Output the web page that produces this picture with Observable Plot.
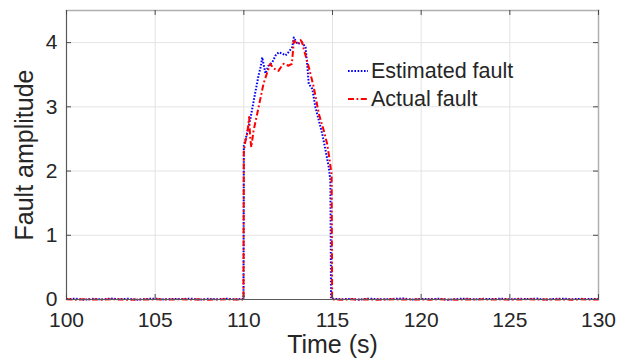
<!DOCTYPE html>
<html>
<head>
<meta charset="utf-8">
<script src="https://cdn.jsdelivr.net/npm/d3@7"></script>
<script src="https://cdn.jsdelivr.net/npm/@observablehq/plot@0.6"></script>
<style>
  html, body { margin: 0; padding: 0; background: #fff; }
  #wrap { position: relative; width: 628px; height: 359px; font-family: "Liberation Sans", Arial, sans-serif; }
  #legend { position: absolute; left: 0; top: 0; pointer-events: none; }
</style>
</head>
<body>
<div id="wrap"></div>
<script>
// ---- data ----
const xTicks = [100, 105, 110, 115, 120, 125, 130];
const yTicks = [0, 1, 2, 3, 4];
const seriesNames = ["Estimated fault", "Actual fault"];

// Estimated fault (blue, dotted)
const estT = [100, 100.5, 101, 101.5, 102, 102.5, 103, 103.5, 104, 104.5, 105, 105.5, 106, 106.5, 107, 107.5, 108, 108.5, 109, 109.5, 109.9,
  109.98, 110.0, 110.05, 110.15, 110.25, 110.38, 110.56, 110.7, 110.83, 110.95, 111.04, 111.11, 111.22, 111.39, 111.6, 111.79, 111.97,
  112.16, 112.35, 112.52, 112.73, 112.82, 113.01, 113.29, 113.48, 113.57, 113.66, 113.86, 114.04, 114.23, 114.42, 114.61, 114.79, 114.88, 114.92,
  115, 115.5, 116, 116.5, 117, 117.5, 118, 118.5, 119, 119.5, 120, 120.5, 121, 121.5, 122, 122.5, 123, 123.5, 124, 124.5, 125, 125.5,
  126, 126.5, 127, 127.5, 128, 128.5, 129, 129.5, 130];
const estV = [0.006, 0.012, -0.004, 0.010, 0.002, 0.015, 0.005, 0.011, -0.003, 0.008, 0.013, 0.001, 0.009, 0.006, 0.014, -0.002, 0.010, 0.004, 0.013, 0.003, 0.008,
  0.01, 2.40, 2.45, 2.55, 2.68, 2.83, 3.10, 3.30, 3.49, 3.62, 3.77, 3.67, 3.52, 3.64, 3.69, 3.80, 3.85,
  3.83, 3.80, 3.85, 3.93, 4.08, 3.98, 4.00, 3.93, 3.67, 3.36, 3.28, 2.99, 2.79, 2.58, 2.32, 2.06, 1.85, 0.01,
  0.012, 0.004, 0.010, -0.003, 0.013, 0.006, 0.002, 0.011, 0.015, 0.000, 0.009, 0.005, 0.012, -0.004, 0.008, 0.014, 0.003, 0.010, 0.006, 0.013,
  0.001, 0.011, 0.007, 0.014, -0.002, 0.009, 0.012, 0.004, 0.010, 0.006, 0.008];

// Actual fault (red, dash-dot)
const actT = [100, 100.5, 101, 101.5, 102, 102.5, 103, 103.5, 104, 104.5, 105, 105.5, 106, 106.5, 107, 107.5, 108, 108.5, 109, 109.5, 109.9,
  109.98, 110.0, 110.08, 110.2, 110.3, 110.35, 110.42, 110.55, 110.83, 111.11, 111.3, 111.49, 111.67, 111.95, 112.1, 112.24, 112.52, 112.71,
  112.82, 113.01, 113.2, 113.29, 113.38, 113.66, 113.94, 114.23, 114.51, 114.7, 114.85, 114.95, 114.98,
  115, 115.5, 116, 116.5, 117, 117.5, 118, 118.5, 119, 119.5, 120, 120.5, 121, 121.5, 122, 122.5, 123, 123.5, 124, 124.5, 125, 125.5,
  126, 126.5, 127, 127.5, 128, 128.5, 129, 129.5, 130];
const actV = [0.002, -0.003, 0.004, 0.000, -0.002, 0.003, 0.001, -0.004, 0.002, 0.000, 0.003, -0.002, 0.001, 0.004, -0.001, 0.002, -0.003, 0.001, 0.003, 0.000, 0.002,
  0.0, 2.30, 2.45, 2.60, 2.84, 2.55, 2.37, 2.63, 2.99, 3.36, 3.52, 3.67, 3.60, 3.56, 3.62, 3.67, 3.64, 3.67,
  4.03, 3.98, 4.04, 4.00, 3.90, 3.62, 3.31, 2.89, 2.63, 2.42, 2.15, 1.95, 0.0,
  0.001, -0.002, 0.003, 0.000, 0.002, -0.003, 0.001, 0.004, -0.001, 0.002, 0.000, -0.002, 0.003, 0.001, -0.003, 0.002, 0.000, 0.003, -0.001, 0.002,
  -0.002, 0.001, 0.003, 0.000, -0.001, 0.002, 0.001, -0.002, 0.003, 0.000, 0.001];

const estData = estT.map((t, i) => ({t, v: estV[i]}));
const actData = actT.map((t, i) => ({t, v: actV[i]}));

const BLUE = "#0000ff", RED = "#ff0000";
const BLUE_DASH = "1.6,1.6", RED_DASH = "6,2.5,1.8,2.5";
const FONT = "'Liberation Sans', Arial, sans-serif";
const TXT = "#262626";
const TICK_FS = 21, LABEL_FS = 25, LEGEND_FS = 21.5;

const W = 628, H = 359;
const mL = 66, mR = 30, mT = 10, mB = 60;
const plotH = H - mT - mB;
const plotW = W - mL - mR;

const chart = Plot.plot({
  width: W,
  height: H,
  marginLeft: mL,
  marginRight: mR,
  marginTop: mT,
  marginBottom: mB,
  style: {fontFamily: FONT, color: TXT, background: "#fff", overflow: "visible"},
  x: {domain: [100, 130], axis: null},
  y: {domain: [0, 4.5], axis: null},
  marks: [
    Plot.gridX(xTicks.slice(1, -1), {stroke: "#e3e3e3", strokeOpacity: 1, strokeWidth: 1}),
    Plot.gridY(yTicks.slice(1), {stroke: "#e3e3e3", strokeOpacity: 1, strokeWidth: 1}),
    // box: top & right (lighter)
    Plot.frame({anchor: "top", stroke: "#b0b0b0", strokeWidth: 1.5}),
    Plot.frame({anchor: "right", stroke: "#b0b0b0", strokeWidth: 1.5}),
    // data
    Plot.line(estData, {x: "t", y: "v", stroke: BLUE, strokeWidth: 2, strokeDasharray: BLUE_DASH, strokeLinecap: "butt"}),
    Plot.line(actData, {x: "t", y: "v", stroke: RED, strokeWidth: 2, strokeDasharray: RED_DASH, strokeLinecap: "butt"}),
    // axis lines (darker)
    Plot.frame({anchor: "bottom", stroke: "#5a5a5a", strokeWidth: 1.2}),
    Plot.frame({anchor: "left", stroke: "#5a5a5a", strokeWidth: 1.2}),
    // inward tick marks
    Plot.tickX(xTicks, {x: d => d, stroke: "#4a4a4a", strokeWidth: 1, insetTop: plotH - 5}),
    Plot.tickX(xTicks, {x: d => d, stroke: "#4a4a4a", strokeWidth: 1, insetBottom: plotH - 5}),
    Plot.tickY(yTicks, {y: d => d, stroke: "#4a4a4a", strokeWidth: 1, insetRight: plotW - 5}),
    Plot.tickY(yTicks, {y: d => d, stroke: "#4a4a4a", strokeWidth: 1, insetLeft: plotW - 5}),
    // tick labels
    Plot.text(xTicks, {x: d => d, text: d => String(d), frameAnchor: "bottom", dy: 21, fontSize: TICK_FS, fill: TXT, textAnchor: "middle", lineAnchor: "middle"}),
    Plot.text(yTicks, {y: d => d, text: d => String(d), frameAnchor: "left", dx: -9, fontSize: TICK_FS, fill: TXT, textAnchor: "end", lineAnchor: "middle"}),
    // axis titles
    Plot.text(["Time (s)"], {frameAnchor: "bottom", dy: 45, fontSize: LABEL_FS, fill: TXT, textAnchor: "middle", lineAnchor: "middle"}),
    Plot.text(["Fault amplitude"], {frameAnchor: "left", dx: -42, rotate: -90, fontSize: LABEL_FS, fill: TXT, textAnchor: "middle", lineAnchor: "middle"})
  ]
});

const wrap = document.getElementById("wrap");
wrap.appendChild(chart);

// legend overlay (no box)
const NS = "http://www.w3.org/2000/svg";
const leg = document.createElementNS(NS, "svg");
leg.setAttribute("id", "legend");
leg.setAttribute("width", W);
leg.setAttribute("height", H);
const items = [
  {name: seriesNames[0], color: BLUE, dash: BLUE_DASH, y: 71},
  {name: seriesNames[1], color: RED, dash: RED_DASH, y: 99}
];
items.forEach(it => {
  const ln = document.createElementNS(NS, "line");
  ln.setAttribute("x1", 348); ln.setAttribute("x2", 368);
  ln.setAttribute("y1", it.y); ln.setAttribute("y2", it.y);
  ln.setAttribute("stroke", it.color);
  ln.setAttribute("stroke-width", 2);
  ln.setAttribute("stroke-dasharray", it.dash);
  leg.appendChild(ln);
  const tx = document.createElementNS(NS, "text");
  tx.setAttribute("x", 371);
  tx.setAttribute("y", it.y + 1);
  tx.setAttribute("dominant-baseline", "middle");
  tx.setAttribute("font-family", FONT);
  tx.setAttribute("font-size", LEGEND_FS);
  tx.setAttribute("fill", TXT);
  tx.textContent = it.name;
  leg.appendChild(tx);
});
wrap.appendChild(leg);
</script>
</body>
</html>
